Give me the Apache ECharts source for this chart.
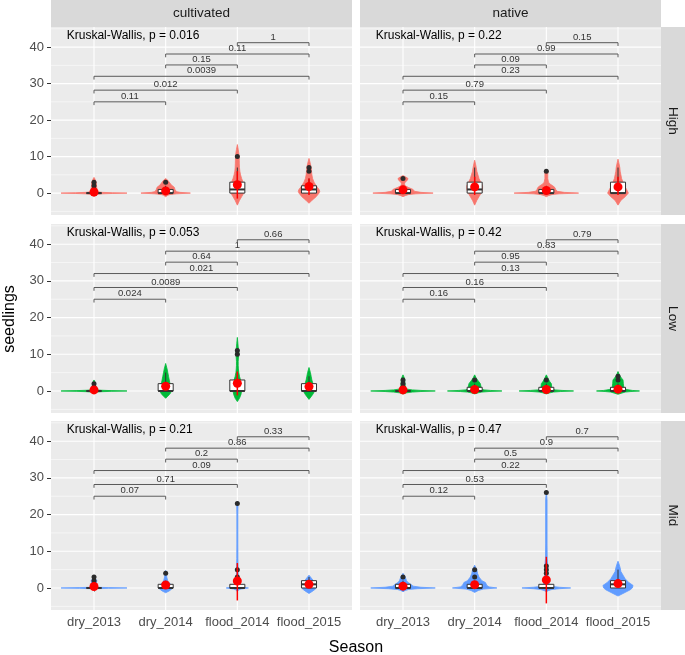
<!DOCTYPE html>
<html><head><meta charset="utf-8">
<script src="https://cdn.jsdelivr.net/npm/echarts@6/dist/echarts.min.js"></script>
<style>html,body{margin:0;padding:0;background:#fff}#c{width:685px;height:655px}</style>
</head><body><div id="c"></div>
<script>
// ---------------- DATA ----------------
const seasons = ['dry_2013','dry_2014','flood_2014','flood_2015'];
const origins = ['cultivated','native'];
const zones = ['High','Low','Mid'];
const zoneColors = ['#F8766D','#00BA38','#619CFF'];
const yTicks = [0,10,20,30,40];
const yMinor = [-5,5,15,25,35,45];
const comparisons = [[1,2],[1,3],[1,4],[2,3],[2,4],[3,4]];
const bracketHeights = [25,28.2,32,35.1,38.1,41.2];
const kw_cultivated = ['0.016','0.053','0.21'];
const kw_native = ['0.22','0.42','0.47'];

// violin outlines: [y, half width in category units]
const violin_cultivated_High = [
 [[-1,0],[-0.6,0.02],[-0.35,0.04],[-0.2,0.12],[-0.1,0.26],[0,0.46],[0.1,0.26],[0.2,0.12],[0.35,0.05],[1,0.04],[2,0.035],[3,0.03],[3.8,0.015],[4.3,0]],
 [[-1,0],[-0.6,0.03],[-0.4,0.06],[-0.2,0.15],[0,0.345],[0.2,0.2],[0.4,0.15],[1,0.13],[1.6,0.12],[2.2,0.08],[3,0.05],[3.5,0.03],[4,0]],
 [[-3.3,0],[-2,0.03],[-1,0.06],[0,0.09],[1,0.1],[2,0.095],[3,0.08],[4,0.06],[5,0.045],[6,0.035],[7,0.03],[8,0.028],[9,0.027],[10,0.025],[11,0.02],[12,0.012],[13.3,0]],
 [[-2.8,0],[-2,0.04],[-1,0.1],[0,0.14],[0.5,0.15],[1,0.14],[2,0.1],[3,0.07],[4,0.05],[5,0.04],[6,0.035],[7,0.03],[8,0.02],[9.5,0]]
];
const violin_native_High = [
 [[-1,0],[-0.7,0.03],[-0.4,0.08],[-0.2,0.18],[0,0.42],[0.2,0.25],[0.5,0.16],[1,0.14],[1.5,0.08],[2,0.03],[2.5,0.02],[3,0.03],[3.5,0.06],[4,0.07],[4.4,0.04],[4.8,0]],
 [[-3.3,0],[-2,0.03],[-1,0.06],[0,0.09],[1,0.11],[2,0.11],[3,0.085],[4,0.06],[5,0.045],[6,0.03],[7,0.022],[8,0.012],[9,0]],
 [[-1,0],[-0.7,0.03],[-0.4,0.08],[-0.2,0.18],[0,0.45],[0.2,0.25],[0.5,0.15],[1,0.13],[1.5,0.12],[2,0.09],[2.5,0.05],[3,0.03],[4,0.02],[5,0.02],[6,0.02],[6.5,0]],
 [[-3.3,0],[-2,0.04],[-1,0.1],[0,0.145],[1,0.12],[2,0.09],[3,0.07],[4,0.05],[5,0.04],[6,0.03],[7,0.025],[8,0.015],[9.3,0]]
];
const violin_cultivated_Low = [
 [[-0.5,0],[-0.3,0.04],[-0.2,0.1],[-0.1,0.24],[0,0.46],[0.1,0.24],[0.2,0.1],[0.3,0.04],[0.5,0.03],[1,0.025],[2,0.02],[2.6,0.01],[3,0]],
 [[-2,0],[-1,0.05],[-0.5,0.07],[0,0.075],[1,0.07],[2,0.06],[3,0.05],[4,0.04],[5,0.03],[6,0.02],[7.5,0]],
 [[-2.9,0],[-2,0.03],[-1,0.05],[0,0.06],[1,0.06],[2,0.055],[3,0.045],[4,0.03],[5,0.02],[6,0.015],[7,0.012],[8,0.012],[9,0.015],[10,0.02],[11,0.02],[12,0.012],[13,0.008],[14.6,0]],
 [[-2.3,0],[-1,0.05],[0,0.08],[1,0.07],[2,0.055],[3,0.04],[4,0.03],[5,0.02],[6.4,0]]
];
const violin_native_Low = [
 [[-0.8,0],[-0.5,0.05],[-0.3,0.13],[-0.15,0.25],[0,0.45],[0.15,0.25],[0.3,0.13],[0.5,0.06],[0.8,0.035],[1.5,0.03],[2.5,0.025],[3.5,0.02],[4.4,0]],
 [[-0.8,0],[-0.5,0.05],[-0.3,0.1],[-0.15,0.2],[0,0.38],[0.15,0.22],[0.3,0.13],[0.6,0.09],[1,0.09],[2,0.08],[2.5,0.06],[3,0.04],[3.6,0.02],[4.4,0]],
 [[-0.8,0],[-0.5,0.05],[-0.3,0.1],[-0.15,0.2],[0,0.38],[0.15,0.22],[0.3,0.12],[0.6,0.08],[1,0.075],[2,0.07],[2.5,0.05],[3,0.035],[3.6,0.02],[4.4,0]],
 [[-0.9,0],[-0.6,0.05],[-0.3,0.1],[-0.15,0.18],[0,0.3],[0.15,0.2],[0.4,0.12],[1,0.08],[2,0.075],[3,0.07],[3.5,0.05],[4,0.03],[4.6,0.015],[5.3,0]]
];
const violin_cultivated_Mid = [
 [[-0.3,0],[-0.2,0.05],[-0.1,0.2],[0,0.46],[0.1,0.2],[0.2,0.05],[0.4,0.03],[1,0.03],[2,0.04],[2.5,0.02],[3,0]],
 [[-1.3,0],[-0.8,0.05],[-0.2,0.09],[0.5,0.09],[1.2,0.06],[1.8,0.03],[3,0.015],[4.8,0]],
 [[-1,0],[-0.5,0.02],[-0.3,0.05],[-0.15,0.1],[0,0.155],[0.15,0.1],[0.3,0.05],[0.6,0.025],[1,0.02],[2,0.015],[4,0.012],[6,0.01],[8,0.008],[12,0.007],[16,0.007],[20,0.007],[23,0.009],[23.6,0]],
 [[-1.5,0],[-1,0.04],[-0.3,0.09],[0.5,0.1],[1.5,0.08],[2.5,0.04],[3.5,0]]
];
const violin_native_Mid = [
 [[-1,0],[-0.7,0.03],[-0.4,0.08],[-0.2,0.2],[0,0.45],[0.2,0.25],[0.5,0.14],[1,0.11],[1.5,0.07],[2,0.05],[3,0.03],[4,0]],
 [[-1.2,0],[-0.7,0.05],[-0.3,0.12],[0,0.31],[0.3,0.2],[0.7,0.17],[1.5,0.15],[2,0.1],[3,0.06],[4,0.04],[5,0.03],[6.2,0]],
 [[-1,0],[-0.7,0.03],[-0.4,0.08],[-0.2,0.18],[0,0.34],[0.2,0.18],[0.4,0.09],[0.8,0.05],[1.5,0.03],[2,0.025],[4,0.02],[6,0.02],[8,0.012],[12,0.01],[18,0.01],[24,0.01],[26.5,0]],
 [[-2.2,0],[-1.5,0.07],[-0.5,0.17],[0,0.2],[0.7,0.21],[1.5,0.15],[2.5,0.1],[3.5,0.07],[4.5,0.04],[5.5,0.03],[6.5,0.015],[7.3,0]]
];

// boxplots: [lower whisker, q1, median, q3, upper whisker]
const box_cultivated_High = [[0,0,0,0,0],[0,0,0,1,2],[0,0,1,3,7],[0,0,1,2,4]];
const box_native_High     = [[0,0,0,1,2],[0,0,1,3,7],[0,0,0,1,2],[0,0,0,3,7]];
const box_cultivated_Low  = [[0,0,0,0,0],[0,0,0,2,5],[0,0,0,3,5],[0,0,0,2,4]];
const box_native_Low      = [[0,0,0,0,0],[0,0,0,1,2],[0,0,0,1,2],[0,0,0,1,2]];
const box_cultivated_Mid  = [[0,0,0,0,0],[0,0,0,1,2],[0,0,0,1,2],[0,0,1,2,3]];
const box_native_Mid      = [[0,0,0,1,2],[0,0,0,1,2],[0,0,0,1,2],[0,0,1,2,5]];

const out_cultivated_High = [[1,2,3],[3],[10],[6,7]];
const out_native_High     = [[4],[],[6],[]];
const out_cultivated_Low  = [[1,2],[],[10,11],[]];
const out_native_Low      = [[1,2,3],[3],[3],[3,4]];
const out_cultivated_Mid  = [[1,2,3],[4],[3,5,23],[]];
const out_native_Mid      = [[3],[3,5],[4,5,6,26],[]];

const mean_cultivated_High = [0.3,0.6,2.3,1.8];
const mean_native_High     = [0.9,1.7,0.7,1.7];
const mean_cultivated_Low  = [0.3,1.3,2.1,1.2];
const mean_native_Low      = [0.3,0.4,0.4,0.5];
const mean_cultivated_Mid  = [0.4,0.8,1.9,1.0];
const mean_native_Mid      = [0.5,0.9,2.2,1.2];

const err_cultivated_High = [null,null,[-1.5,6],[-0.5,4]];
const err_native_High     = [null,[-0.5,4.5],null,[-0.5,4.5]];
const err_cultivated_Low  = [null,null,[-1.2,5.3],null];
const err_native_Low      = [null,null,null,null];
const err_cultivated_Mid  = [null,null,[-3.4,6.8],null];
const err_native_Mid      = [null,null,[-4.2,8.5],null];

const pairP_cultivated_High = ['0.11','0.012','0.0039','0.15','0.11','1'];
const pairP_native_High     = ['0.15','0.79','0.23','0.09','0.99','0.15'];
const pairP_cultivated_Low  = ['0.024','0.0089','0.021','0.64','1','0.66'];
const pairP_native_Low      = ['0.16','0.16','0.13','0.95','0.83','0.79'];
const pairP_cultivated_Mid  = ['0.07','0.71','0.09','0.2','0.86','0.33'];
const pairP_native_Mid      = ['0.12','0.53','0.22','0.5','0.9','0.7'];

// ---------------- TABLE ----------------
const PANEL = {
 cultivated_High:{violin:violin_cultivated_High,box:box_cultivated_High,out:out_cultivated_High,mean:mean_cultivated_High,err:err_cultivated_High,p:pairP_cultivated_High,kw:kw_cultivated[0]},
 native_High:{violin:violin_native_High,box:box_native_High,out:out_native_High,mean:mean_native_High,err:err_native_High,p:pairP_native_High,kw:kw_native[0]},
 cultivated_Low:{violin:violin_cultivated_Low,box:box_cultivated_Low,out:out_cultivated_Low,mean:mean_cultivated_Low,err:err_cultivated_Low,p:pairP_cultivated_Low,kw:kw_cultivated[1]},
 native_Low:{violin:violin_native_Low,box:box_native_Low,out:out_native_Low,mean:mean_native_Low,err:err_native_Low,p:pairP_native_Low,kw:kw_native[1]},
 cultivated_Mid:{violin:violin_cultivated_Mid,box:box_cultivated_Mid,out:out_cultivated_Mid,mean:mean_cultivated_Mid,err:err_cultivated_Mid,p:pairP_cultivated_Mid,kw:kw_cultivated[2]},
 native_Mid:{violin:violin_native_Mid,box:box_native_Mid,out:out_native_Mid,mean:mean_native_Mid,err:err_native_Mid,p:pairP_native_Mid,kw:kw_native[2]}
};

// ---------------- LAYOUT / STYLE ----------------
const FONT = '"Liberation Sans", Arial, Helvetica, sans-serif';
const gridLefts = [51,360], gridWidth = 301;
const gridTops = [27,224,421], gridHeights = [188,189,189];
const X_MIN = 0.4, X_MAX = 4.6, Y_MIN = -6, Y_MAX = 45.5;
const BOX_HALF = 0.105, TIP = 0.9, KW_X = 0.62, KW_Y = 43.1;

const chart = echarts.init(document.getElementById('c'), null, {renderer:'canvas', width:685, height:655});
const grids = [], xAxes = [], yAxes = [], series = [];

function txtStyle(text, size, color, align, valign){
  return {text, fontSize:size, fontFamily:FONT, fill:color, align, textAlign:align, verticalAlign:valign, textVerticalAlign:valign};
}

zones.forEach((zone, r) => origins.forEach((origin, c) => {
  const i = grids.length;
  const d = PANEL[origin + '_' + zone];
  const color = zoneColors[r];
  grids.push({left:gridLefts[c], top:gridTops[r], width:gridWidth, height:gridHeights[r],
    show:true, backgroundColor:'#EBEBEB', borderWidth:0, containLabel:false, outerBoundsMode:'none'});
  xAxes.push({gridIndex:i, type:'value', min:X_MIN, max:X_MAX, axisLine:{show:false}, splitLine:{show:false},
    axisTick:{show:r===2, customValues:[1,2,3,4], length:4, lineStyle:{color:'#333', width:1}},
    axisLabel:{show:r===2, customValues:[1,2,3,4], formatter:v=>seasons[Math.round(v)-1],
      color:'#4D4D4D', fontSize:13, fontFamily:FONT, margin:6}});
  yAxes.push({gridIndex:i, type:'value', min:Y_MIN, max:Y_MAX, axisLine:{show:false}, splitLine:{show:false},
    axisTick:{show:c===0, customValues:yTicks, length:4, lineStyle:{color:'#333', width:1}},
    axisLabel:{show:c===0, customValues:yTicks, color:'#4D4D4D', fontSize:13, fontFamily:FONT, margin:7}});

  // grid lines
  series.push({type:'custom', xAxisIndex:i, yAxisIndex:i, silent:true, z:1, clip:true,
    data: yMinor.map(v=>[X_MIN, v, 0]).concat(yTicks.map(v=>[X_MIN, v, 1])),
    renderItem:(p, api)=>{const y=api.value(1); const a=api.coord([X_MIN,y]), b=api.coord([X_MAX,y]);
      return {type:'line', shape:{x1:a[0],y1:a[1],x2:b[0],y2:b[1]}, style:{stroke:'#fff', lineWidth:api.value(2)?1.1:0.55}};}});
  series.push({type:'custom', xAxisIndex:i, yAxisIndex:i, silent:true, z:1, clip:true,
    data: seasons.map((s,k)=>[k+1, 0]),
    renderItem:(p, api)=>{const x=api.value(0); const a=api.coord([x,Y_MIN]), b=api.coord([x,Y_MAX]);
      return {type:'line', shape:{x1:a[0],y1:a[1],x2:b[0],y2:b[1]}, style:{stroke:'#fff', lineWidth:1.1}};}});

  // violins
  series.push({type:'custom', xAxisIndex:i, yAxisIndex:i, silent:true, z:2, clip:true,
    data: seasons.map((s,k)=>[k+1, 0]),
    renderItem:(p, api)=>{const g=api.value(0); const sh=d.violin[p.dataIndex];
      const right = sh.map(([y,w])=>api.coord([g+w, y]));
      const left = sh.slice().reverse().map(([y,w])=>api.coord([g-w, y]));
      return {type:'polygon', shape:{points:right.concat(left)}, style:{fill:color, stroke:color, lineWidth:0.8}};}});

  // boxplots
  series.push({type:'custom', xAxisIndex:i, yAxisIndex:i, silent:true, z:3, clip:true,
    data: d.box.map((b,k)=>[k+1].concat(b)),
    renderItem:(p, api)=>{const g=api.value(0), lw=api.value(1), q1=api.value(2), med=api.value(3), q3=api.value(4), uw=api.value(5);
      const tl=api.coord([g-BOX_HALF,q3]), br=api.coord([g+BOX_HALF,q1]);
      const wu1=api.coord([g,q3]), wu2=api.coord([g,uw]), wl1=api.coord([g,q1]), wl2=api.coord([g,lw]);
      const m1=api.coord([g-BOX_HALF,med]), m2=api.coord([g+BOX_HALF,med]);
      const st={stroke:'#333', lineWidth:1};
      return {type:'group', children:[
        {type:'line', shape:{x1:wu1[0],y1:wu1[1],x2:wu2[0],y2:wu2[1]}, style:st},
        {type:'line', shape:{x1:wl1[0],y1:wl1[1],x2:wl2[0],y2:wl2[1]}, style:st},
        {type:'rect', shape:{x:tl[0], y:tl[1], width:br[0]-tl[0], height:br[1]-tl[1]}, style:{fill:'#fff', stroke:'#333', lineWidth:1}},
        {type:'line', shape:{x1:m1[0],y1:m1[1],x2:m2[0],y2:m2[1]}, style:{stroke:'#333', lineWidth:2}}
      ]};}});

  // outliers
  const outData = [];
  d.out.forEach((arr,k)=>arr.forEach(v=>outData.push([k+1, v])));
  series.push({type:'scatter', xAxisIndex:i, yAxisIndex:i, silent:true, z:4, symbolSize:5,
    itemStyle:{color:'#2b2b2b', opacity:1}, data:outData});

  // error bars (mean ± sd)
  const errData = [];
  d.err.forEach((e,k)=>{ if(e) errData.push([k+1, e[0], e[1]]); });
  series.push({type:'custom', xAxisIndex:i, yAxisIndex:i, silent:true, z:5, clip:true, data:errData,
    renderItem:(p, api)=>{const g=api.value(0); const a=api.coord([g,api.value(1)]), b=api.coord([g,api.value(2)]);
      return {type:'line', shape:{x1:a[0],y1:a[1],x2:b[0],y2:b[1]}, style:{stroke:'#FF0000', lineWidth:1.5}};}});

  // means
  series.push({type:'scatter', xAxisIndex:i, yAxisIndex:i, silent:true, z:6, symbolSize:9,
    itemStyle:{color:'#FF0000', opacity:1}, data:d.mean.map((m,k)=>[k+1, m])});

  // brackets with pairwise p-values
  series.push({type:'custom', xAxisIndex:i, yAxisIndex:i, silent:true, z:7, clip:true,
    data: comparisons.map(([a,b],j)=>[a, b, bracketHeights[j]]),
    renderItem:(p, api)=>{const x1=api.value(0), x2=api.value(1), y=api.value(2);
      const a=api.coord([x1,y-TIP]), b=api.coord([x1,y]), c2=api.coord([x2,y]), e=api.coord([x2,y-TIP]);
      const mid=api.coord([(x1+x2)/2, y]);
      return {type:'group', children:[
        {type:'polyline', shape:{points:[a,b,c2,e]}, style:{stroke:'#595959', lineWidth:1, fill:'none'}},
        {type:'text', x:mid[0], y:mid[1]-0.5, style:txtStyle(d.p[p.dataIndex], 9.5, '#333', 'center', 'bottom')}
      ]};}});

  // Kruskal-Wallis label
  series.push({type:'custom', xAxisIndex:i, yAxisIndex:i, silent:true, z:7, clip:true,
    data:[[KW_X, KW_Y]],
    renderItem:(p, api)=>{const pt=api.coord([api.value(0), api.value(1)]);
      return {type:'text', x:pt[0], y:pt[1], style:txtStyle('Kruskal-Wallis, p = ' + d.kw, 12, '#000', 'left', 'middle')};}});
}));

// strips and titles
const graphic = [];
origins.forEach((o,c)=>{
  graphic.push({type:'rect', silent:true, shape:{x:gridLefts[c], y:0, width:gridWidth, height:27}, style:{fill:'#D9D9D9'}});
  graphic.push({type:'text', silent:true, x:gridLefts[c]+gridWidth/2, y:13.5, style:txtStyle(o, 13.5, '#1A1A1A', 'center', 'middle')});
});
zones.forEach((z,r)=>{
  graphic.push({type:'rect', silent:true, shape:{x:661, y:gridTops[r], width:24, height:gridHeights[r]}, style:{fill:'#D9D9D9'}});
  graphic.push({type:'text', silent:true, x:673, y:gridTops[r]+gridHeights[r]/2, rotation:-Math.PI/2, style:txtStyle(z, 13.5, '#1A1A1A', 'center', 'middle')});
});
graphic.push({type:'text', silent:true, x:356, y:648, style:txtStyle('Season', 16, '#000', 'center', 'middle')});
graphic.push({type:'text', silent:true, x:10, y:319, rotation:Math.PI/2, style:txtStyle('seedlings', 16, '#000', 'center', 'middle')});

chart.setOption({animation:false, backgroundColor:'#fff', grid:grids, xAxis:xAxes, yAxis:yAxes, series, graphic});
</script>
</body></html>
